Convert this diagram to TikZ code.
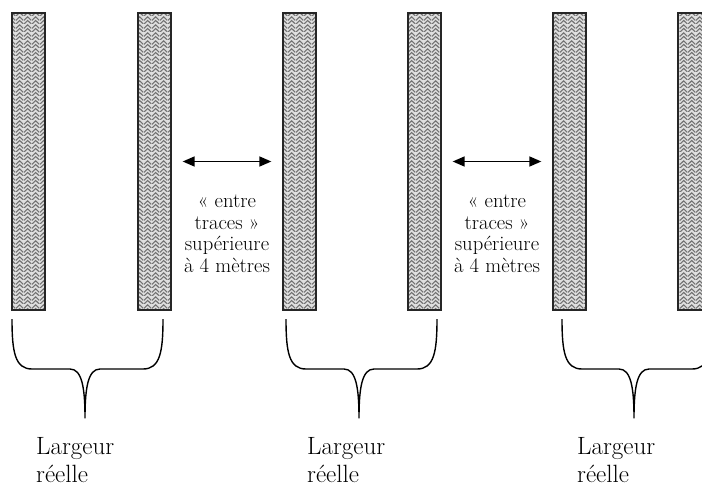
\documentclass[tikz,border=0pt]{standalone}
\usepackage{fontspec}
\usetikzlibrary{arrows.meta,patterns}

\pgfdeclarepatternformonly{chevrons}{\pgfpointorigin}{\pgfpoint{8pt}{8pt}}{\pgfpoint{8pt}{8pt}}{
  \pgfsetlinewidth{1.2pt}
  \pgfpathmoveto{\pgfpoint{0pt}{0pt}}\pgfpathlineto{\pgfpoint{4pt}{4pt}}\pgfpathlineto{\pgfpoint{8pt}{0pt}}
  \pgfpathmoveto{\pgfpoint{0pt}{4pt}}\pgfpathlineto{\pgfpoint{4pt}{8pt}}\pgfpathlineto{\pgfpoint{8pt}{4pt}}
  \pgfusepath{stroke}}

\begin{document}
\begin{tikzpicture}[x=1pt,y=-1pt]
        \tikzstyle{trace}=[rectangle,draw=black!85,line width=1.3pt,preaction={fill=gray!25},pattern=chevrons,pattern color=black!55,minimum width=33pt,minimum height=297pt,inner sep=0pt]
        \tikzstyle{fleche}=[{Triangle[length=12pt,width=10pt]}-{Triangle[length=12pt,width=10pt]},line width=1.5pt,shorten <=11pt,shorten >=11pt]
        \tikzstyle{accolade}=[line width=1.4pt,line join=round]
        \tikzstyle{legende}=[anchor=north,align=center,inner sep=0pt,font=\fontsize{20.6}{21.5}\selectfont]
        \tikzstyle{largeur}=[anchor=north west,align=left,inner sep=0pt,font=\fontsize{25}{28}\selectfont]
        \clip (0,0) rectangle (702,488);
        % les traces
        \foreach \x [count=\i] in {28.5,154.5,299.5,424.5,569.5,694.5}
          \node [trace] (t\i) at (\x,161.5) {};
        % entre traces
        \draw[fleche] (t2) -- (t3);
        \draw[fleche] (t4) -- (t5);
        \node [legende] (e1) at (227,195) {« entre\\traces »\\supérieure\\à 4 mètres};
        \node [legende] (e2) at (497,195) {« entre\\traces »\\supérieure\\à 4 mètres};
        % accolades
        \foreach \l/\m/\r [count=\i] in {12/85/163,286/359/437,562/634/712}
        {
          \draw[accolade] (\l,319) .. controls (\l,352) and (\l+3,369) .. (\l+20,369)
            -- (\m-15,369) .. controls (\m-3,369) and (\m,388) .. (\m,418)
            .. controls (\m,388) and (\m+3,369) .. (\m+15,369)
            -- (\r-20,369) .. controls (\r-3,369) and (\r,352) .. (\r,319);
        }
        \node [largeur] (l1) at (36,437) {Largeur\\réelle};
        \node [largeur] (l2) at (307,437) {Largeur\\réelle};
        \node [largeur] (l3) at (577,437) {Largeur\\réelle};
      \end{tikzpicture}
\end{document}
